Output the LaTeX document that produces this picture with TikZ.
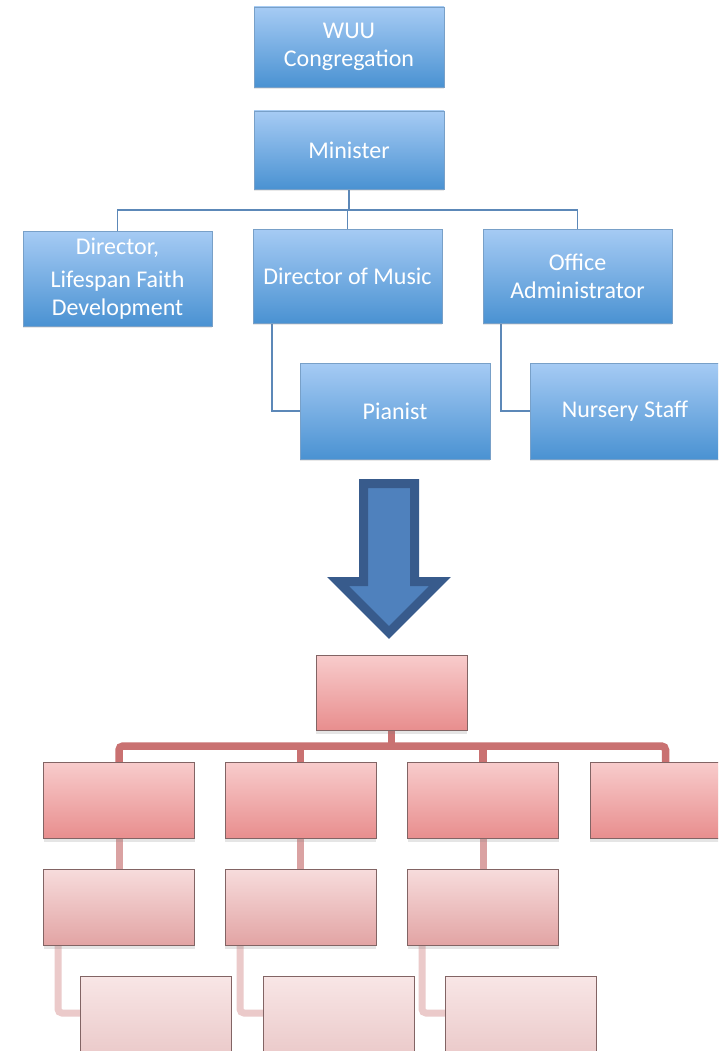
\documentclass[tikz,border=0pt]{standalone}
\usepackage{fontspec}
\setmainfont{Carlito}
\usetikzlibrary{shadows}
\pgfdeclarelayer{bg}
\pgfdeclarelayer{paper}
\pgfsetlayers{paper,bg,main}
\definecolor{btop}{RGB}{166,203,244}
\definecolor{bbot}{RGB}{74,146,210}
\definecolor{bedge}{RGB}{120,160,200}
\definecolor{bline}{RGB}{92,136,184}
\definecolor{ptopA}{RGB}{248,204,204}
\definecolor{pbotA}{RGB}{232,142,142}
\definecolor{ptopB}{RGB}{247,220,220}
\definecolor{pbotB}{RGB}{226,164,164}
\definecolor{ptopC}{RGB}{248,230,230}
\definecolor{pbotC}{RGB}{232,196,196}
\definecolor{pedge}{RGB}{130,100,100}
\definecolor{pbar}{RGB}{201,113,113}
\definecolor{pbarB}{RGB}{218,162,162}
\definecolor{pbarC}{RGB}{235,202,202}
\definecolor{arrfill}{RGB}{79,129,189}
\definecolor{arredge}{RGB}{56,91,140}
\begin{document}
\begin{tikzpicture}[x=1pt,y=-1pt,
  boxbase/.style={rectangle, inner sep=0pt, outer sep=0pt, anchor=north west,
    line width=0.5pt, align=center},
  bbox/.style={boxbase, top color=btop, bottom color=bbot, draw=bedge,
    text=white, font=\fontsize{24}{28}\selectfont,
    drop shadow={opacity=0.18, shadow xshift=0pt, shadow yshift=-2pt}},
  pboxA/.style={boxbase, top color=ptopA, bottom color=pbotA, draw=pedge,
    minimum width=151pt, minimum height=76pt,
    drop shadow={opacity=0.2, shadow xshift=0pt, shadow yshift=-4pt}},
  pboxB/.style={pboxA, top color=ptopB, bottom color=pbotB},
  pboxC/.style={pboxA, top color=ptopC, bottom color=pbotC, minimum height=95pt},
  bconn/.style={draw=bline, line width=1.5pt},
  pconnA/.style={draw=pbar, line width=7.5pt, rounded corners=4pt},
  pconnB/.style={draw=pbarB, line width=7pt},
  pconnC/.style={draw=pbarC, line width=7pt, rounded corners=4pt}]
\useasboundingbox (0,0) rectangle (718,1051);
\clip (0,0) rectangle (718,1051);
\begin{pgfonlayer}{paper}
  \fill[white] (0,0) rectangle (718,1051);
\end{pgfonlayer}

% ---------- blue chart ----------
\node[bbox, minimum width=190pt, minimum height=80pt] (wuu) at (254,7) {WUU\\Congregation};
\node[bbox, minimum width=190pt, minimum height=78pt] (min) at (254,111) {Minister};
\node[bbox, minimum width=189pt, minimum height=95pt] (dir) at (23,231) {\raisebox{-4pt}{Director,}\\[9pt]Lifespan Faith\\Development};
\node[bbox, minimum width=189pt, minimum height=94pt] (mus) at (253,229) {Director of Music};
\node[bbox, minimum width=189pt, minimum height=94pt] (off) at (483,229) {Office\\Administrator};
\node[bbox, minimum width=190pt, minimum height=96pt] (pia) at (300,363) {Pianist};
\node[bbox, minimum width=190pt, minimum height=96pt] (nur) at (530,363) {Nursery Staff};

\coordinate (bbus) at (0,210);
\coordinate (bx1) at (272,0);
\coordinate (bx2) at (501,0);
\begin{pgfonlayer}{bg}
  \draw[bconn] (min.south) -- (min.south |- bbus);
  \draw[bconn] (dir.north) -- (dir.north |- bbus) -- (off.north |- bbus) -- (off.north);
  \draw[bconn] (mus.north) -- (mus.north |- bbus);
  \draw[bconn] (mus.south -| bx1) |- (pia.west);
  \draw[bconn] (off.south -| bx2) |- (nur.west);
\end{pgfonlayer}

% ---------- arrow ----------
\draw[draw=arredge, fill=arrfill, line width=9pt, line join=miter, miter limit=10]
  (363.5,483.5) -- (414.5,483.5) -- (414.5,581.5) -- (440,581.5) -- (389,632.5)
  -- (338,581.5) -- (363.5,581.5) -- cycle;

% ---------- pink chart ----------
\node[pboxA, minimum height=75pt] (p1) at (316,655) {};
\node[pboxA] (p2a) at (43.5,762) {};
\node[pboxA] (p2b) at (225,762) {};
\node[pboxA] (p2c) at (407.5,762) {};
\node[pboxA] (p2d) at (590,762) {};
\node[pboxB] (p3a) at (43.5,869) {};
\node[pboxB] (p3b) at (225,869) {};
\node[pboxB] (p3c) at (407.5,869) {};
\node[pboxC] (p4a) at (80.5,976) {};
\node[pboxC] (p4b) at (263,976) {};
\node[pboxC] (p4c) at (445.5,976) {};

\coordinate (pbus) at (0,746);
\coordinate (pl) at (0,1013);
\coordinate (qa) at (58,0);
\coordinate (qb) at (240,0);
\coordinate (qc) at (422,0);
\begin{pgfonlayer}{bg}
  \draw[pconnA] (p2a.north) -- (p2a.north |- pbus) -- (p2d.north |- pbus) -- (p2d.north);
  \draw[pconnA, rounded corners=0pt] (p1.south) -- (p1.south |- pbus);
  \draw[pconnA, rounded corners=0pt] (p2b.north) -- (p2b.north |- pbus);
  \draw[pconnA, rounded corners=0pt] (p2c.north) -- (p2c.north |- pbus);
  \draw[pconnB] (p2a.south) -- (p3a.north);
  \draw[pconnB] (p2b.south) -- (p3b.north);
  \draw[pconnB] (p2c.south) -- (p3c.north);
  \draw[pconnC] (p3a.south -| qa) -- (qa |- pl) -- (p4a.west |- pl);
  \draw[pconnC] (p3b.south -| qb) -- (qb |- pl) -- (p4b.west |- pl);
  \draw[pconnC] (p3c.south -| qc) -- (qc |- pl) -- (p4c.west |- pl);
\end{pgfonlayer}
\end{tikzpicture}
\end{document}
